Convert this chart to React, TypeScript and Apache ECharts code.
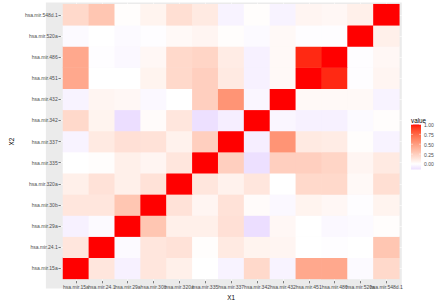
import React, { useEffect, useRef } from "react";
import * as echarts from "echarts";

// ---------- data ----------
const mirs = [
  "hsa.mir.15a",
  "hsa.mir.24.1",
  "hsa.mir.29a",
  "hsa.mir.30b",
  "hsa.mir.320a",
  "hsa.mir.335",
  "hsa.mir.337",
  "hsa.mir.342",
  "hsa.mir.432",
  "hsa.mir.451",
  "hsa.mir.486",
  "hsa.mir.520a",
  "hsa.mir.548d.1",
];

// correlation matrix, rows/cols in the order of `mirs`
const row15a = [1, 0.13, -0.06, 0.13, 0.08, 0.0, -0.05, 0.2, -0.05, 0.45, 0.45, -0.02, 0.2];
const row24 = [0.13, 1, -0.02, 0.13, 0.15, 0.01, 0.11, 0.06, 0.05, 0.0, -0.01, 0.0, 0.3];
const row29a = [-0.06, -0.02, 1, 0.3, 0.08, 0.08, 0.16, -0.14, 0.04, 0.0, -0.03, -0.02, 0.01];
const row30b = [0.13, 0.13, 0.3, 1, 0.15, 0.05, 0.15, 0.02, -0.03, 0.06, 0.04, -0.01, 0.06];
const row320a = [0.08, 0.15, 0.08, 0.15, 1, 0.13, 0.07, 0.13, 0.0, 0.2, 0.2, 0.03, 0.17];
const row335 = [0.0, 0.01, 0.08, 0.05, 0.13, 1, 0.25, -0.13, 0.25, 0.25, 0.22, 0.05, 0.11];
const row337 = [-0.05, 0.11, 0.16, 0.15, 0.07, 0.25, 1, -0.07, 0.55, 0.11, 0.1, 0.01, -0.05];
const row342 = [0.2, 0.06, -0.14, 0.02, 0.13, -0.13, -0.07, 1, -0.04, -0.06, -0.06, -0.02, 0.01];
const row432 = [-0.05, 0.05, 0.04, -0.03, 0.0, 0.25, 0.55, -0.04, 1, 0.03, 0.03, 0.03, -0.05];
const row451 = [0.45, 0.0, 0.0, 0.06, 0.2, 0.25, 0.11, -0.06, 0.03, 1, 0.95, -0.01, 0.05];
const row486 = [0.45, -0.01, -0.03, 0.04, 0.2, 0.22, 0.1, -0.06, 0.03, 0.95, 1, -0.01, 0.04];
const row520a = [-0.02, 0.0, -0.02, -0.01, 0.03, 0.05, 0.01, -0.02, 0.03, -0.01, -0.01, 1, 0.08];
const row548 = [0.2, 0.3, 0.01, 0.06, 0.17, 0.11, -0.05, 0.01, -0.05, 0.05, 0.04, 0.08, 1];

const corrRows = [
  row15a, row24, row29a, row30b, row320a, row335, row337,
  row342, row432, row451, row486, row520a, row548,
];

const legendTicks = [0, 0.25, 0.5, 0.75, 1];
const valueMin = -0.14;
const valueMax = 1;

// ---------- colour helpers (Lab interpolation like scales::gradient_n_pal) ----------
type RGB = [number, number, number];
const Xn = 0.95047, Yn = 1.0, Zn = 1.08883;
function toLin(c: number) {
  c /= 255;
  return c <= 0.04045 ? c / 12.92 : Math.pow((c + 0.055) / 1.055, 2.4);
}
function fromLin(c: number) {
  const v = c <= 0.0031308 ? 12.92 * c : 1.055 * Math.pow(c, 1 / 2.4) - 0.055;
  return Math.max(0, Math.min(255, Math.round(v * 255)));
}
function f(t: number) {
  return t > 0.008856 ? Math.cbrt(t) : 7.787 * t + 16 / 116;
}
function finv(t: number) {
  const t3 = t * t * t;
  return t3 > 0.008856 ? t3 : (t - 16 / 116) / 7.787;
}
function rgbToLab([r8, g8, b8]: RGB): RGB {
  const r = toLin(r8), g = toLin(g8), b = toLin(b8);
  const X = 0.4124 * r + 0.3576 * g + 0.1805 * b;
  const Y = 0.2126 * r + 0.7152 * g + 0.0722 * b;
  const Z = 0.0193 * r + 0.1192 * g + 0.9505 * b;
  const fx = f(X / Xn), fy = f(Y / Yn), fz = f(Z / Zn);
  return [116 * fy - 16, 500 * (fx - fy), 200 * (fy - fz)];
}
function labToHex([L, a, bb]: RGB): string {
  const fy = (L + 16) / 116;
  const fx = a / 500 + fy;
  const fz = fy - bb / 200;
  const X = finv(fx) * Xn, Y = finv(fy) * Yn, Z = finv(fz) * Zn;
  const r = 3.2406 * X - 1.5372 * Y - 0.4986 * Z;
  const g = -0.9689 * X + 1.8758 * Y + 0.0415 * Z;
  const b = 0.0557 * X - 0.204 * Y + 1.057 * Z;
  const h = (n: number) => fromLin(n).toString(16).padStart(2, "0");
  return "#" + h(r) + h(g) + h(b);
}
const LAB_WHITE = rgbToLab([255, 255, 255]);
const LAB_RED = rgbToLab([255, 0, 0]);
const LAB_BLUE = rgbToLab([0, 0, 255]);
function mix(a: RGB, b: RGB, t: number): RGB {
  return [a[0] + (b[0] - a[0]) * t, a[1] + (b[1] - a[1]) * t, a[2] + (b[2] - a[2]) * t];
}
function fillColor(v: number): string {
  return v >= 0 ? labToHex(mix(LAB_WHITE, LAB_RED, Math.min(1, v))) : labToHex(mix(LAB_WHITE, LAB_BLUE, Math.min(1, -v)));
}

const FONT = "Liberation Sans, Arial, Helvetica, sans-serif";

export default function App() {
  const ref = useRef<HTMLDivElement>(null);

  useEffect(() => {
    if (!ref.current) return;
    const chart = echarts.init(ref.current, undefined, { renderer: "svg" });

    const heatData: [number, number, number][] = [];
    corrRows.forEach((row, yi) => {
      row.forEach((v, xi) => heatData.push([xi, yi, v]));
    });

    const nStops = 115;
    const stops: string[] = [];
    for (let i = 0; i < nStops; i++) {
      stops.push(fillColor(valueMin + ((valueMax - valueMin) * i) / (nStops - 1)));
    }

    // grid geometry
    const gLeft = 48, gRight = 39.7, gTop = 4.2, gBottom = 18.4;

    // legend geometry
    const barX = 411, barTop = 124.5, barW = 10, barH = 45;
    const barBottom = barTop + barH;
    const vy = (v: number) => barBottom - ((v - valueMin) / (valueMax - valueMin)) * barH;
    const gradStops = [];
    for (let i = 0; i <= 40; i++) {
      const v = valueMax - ((valueMax - valueMin) * i) / 40;
      gradStops.push({ offset: i / 40, color: fillColor(v) });
    }
    const legendEls: any[] = [
      {
        type: "text",
        x: barX,
        y: barTop - 1.5,
        style: { text: "value", font: `6.3px ${FONT}`, fill: "#000", textVerticalAlign: "bottom", textAlign: "left" },
      },
      {
        type: "rect",
        shape: { x: barX, y: barTop, width: barW, height: barH },
        style: {
          fill: new echarts.graphic.LinearGradient(0, 0, 0, 1, gradStops),
        },
      },
    ];
    legendTicks.forEach((t) => {
      const y = vy(t);
      legendEls.push({
        type: "text",
        x: barX + barW + 3,
        y: y + 0.5,
        style: { text: t.toFixed(2), font: `5px ${FONT}`, fill: "#4D4D4D", textVerticalAlign: "middle", textAlign: "left" },
      });
      legendEls.push({
        type: "line",
        shape: { x1: barX, y1: y, x2: barX + 2, y2: y },
        style: { stroke: "#fff", lineWidth: 0.5 },
      });
      legendEls.push({
        type: "line",
        shape: { x1: barX + barW - 2, y1: y, x2: barX + barW, y2: y },
        style: { stroke: "#fff", lineWidth: 0.5 },
      });
    });

    const whiteTick = (len: number) => ({
      show: true,
      length: len,
      alignWithLabel: true,
      interval: 0,
      lineStyle: { color: "#ffffff", width: 0.6 },
    });
    const hiddenAxisBase = {
      type: "category" as const,
      data: mirs,
      axisLine: { show: false },
      axisLabel: { show: false },
      splitLine: { show: false },
    };

    chart.setOption({
      animation: false,
      backgroundColor: "#ffffff",
      grid: { left: gLeft, right: gRight, top: gTop, bottom: gBottom, containLabel: false },
      graphic: [
        {
          type: "rect",
          z: -10,
          shape: { x: 45.9, y: 2.5, width: 401.8 - 45.9, height: 288.6 - 2.5 },
          style: { fill: "#EBEBEB" },
        },
        ...legendEls,
      ],
      xAxis: [
        {
          type: "category",
          data: mirs,
          position: "bottom",
          offset: 2,
          axisLine: { show: false },
          axisTick: { show: true, length: 2.4, alignWithLabel: true, interval: 0, lineStyle: { color: "#333333", width: 0.6 } },
          axisLabel: { interval: 0, fontSize: 5, color: "#4D4D4D", margin: 3.2, fontFamily: FONT },
          splitLine: { show: false },
          name: "X1",
          nameLocation: "middle",
          nameGap: 12,
          nameTextStyle: { fontSize: 6.3, color: "#000", fontFamily: FONT },
        },
        { ...hiddenAxisBase, position: "bottom", offset: 0, axisTick: whiteTick(2) },
        { ...hiddenAxisBase, position: "top", offset: 0, axisTick: whiteTick(1.7) },
      ],
      yAxis: [
        {
          type: "category",
          data: mirs,
          position: "left",
          offset: 2.1,
          axisLine: { show: false },
          axisTick: { show: true, length: 2.4, alignWithLabel: true, interval: 0, lineStyle: { color: "#333333", width: 0.6 } },
          axisLabel: { interval: 0, fontSize: 5, color: "#4D4D4D", margin: 3.2, fontFamily: FONT },
          splitLine: { show: false },
          name: "X2",
          nameLocation: "middle",
          nameGap: 44,
          nameTextStyle: { fontSize: 6.3, color: "#000", fontFamily: FONT },
        },
        { ...hiddenAxisBase, position: "left", offset: 0, axisTick: whiteTick(2.1) },
        { ...hiddenAxisBase, position: "right", offset: 0, axisTick: whiteTick(2.5) },
      ],
      visualMap: {
        type: "continuous",
        show: false,
        min: valueMin,
        max: valueMax,
        dimension: 2,
        seriesIndex: 0,
        inRange: { color: stops },
      },
      series: [
        {
          type: "heatmap",
          xAxisIndex: 0,
          yAxisIndex: 0,
          data: heatData,
          itemStyle: { borderWidth: 0 },
          emphasis: { disabled: true },
        },
      ],
    });

    return () => chart.dispose();
  }, []);

  return (
    <div
      ref={ref}
      style={{ position: "fixed", left: 0, top: 0, width: 439, height: 305, background: "#fff" }}
    />
  );
}
